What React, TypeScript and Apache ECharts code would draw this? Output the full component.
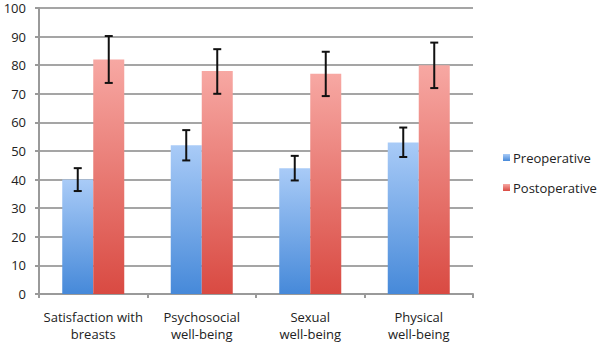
import React, { useEffect, useRef } from "react";
import * as echarts from "echarts";

const categories = [
  "Satisfaction with\nbreasts",
  "Psychosocial\nwell-being",
  "Sexual\nwell-being",
  "Physical\nwell-being",
];
const preoperative = [40, 52, 44, 53];
const preoperativeLow = [36, 46.7, 39.7, 47.9];
const preoperativeHigh = [44, 57.3, 48.3, 58.2];
const postoperative = [82, 78, 77, 80];
const postoperativeLow = [73.8, 70, 69.2, 72];
const postoperativeHigh = [90.2, 85.6, 84.7, 87.9];
const yTicks = [0, 10, 20, 30, 40, 50, 60, 70, 80, 90, 100];

const FONT = "'Open Sans', sans-serif";
const BAR_W = 31;

const blueGrad = new echarts.graphic.LinearGradient(0, 0, 0, 1, [
  { offset: 0, color: "#a9cbf7" },
  { offset: 1, color: "#4689d9" },
]);
const redGrad = new echarts.graphic.LinearGradient(0, 0, 0, 1, [
  { offset: 0, color: "#f7a8a3" },
  { offset: 1, color: "#d94a42" },
]);

function errorSeries(low: number[], high: number[], offset: number) {
  return {
    type: "custom",
    silent: true,
    z: 10,
    data: low.map((l, i) => [i, l, high[i]]),
    renderItem: (params: any, api: any) => {
      const i = api.value(0);
      const lo = api.coord([i, api.value(1)]);
      const hi = api.coord([i, api.value(2)]);
      const x = lo[0] + offset;
      const cap = 4;
      const style = { stroke: "#111", lineWidth: 2 };
      return {
        type: "group",
        children: [
          { type: "line", shape: { x1: x, y1: lo[1], x2: x, y2: hi[1] }, style },
          { type: "line", shape: { x1: x - cap, y1: lo[1], x2: x + cap, y2: lo[1] }, style },
          { type: "line", shape: { x1: x - cap, y1: hi[1], x2: x + cap, y2: hi[1] }, style },
        ],
      };
    },
  };
}

export default function App() {
  const ref = useRef<HTMLDivElement>(null);
  useEffect(() => {
    const chart = echarts.init(ref.current!, null, { renderer: "svg" });
    chart.setOption({
      animation: false,
      backgroundColor: "#ffffff",
      textStyle: { fontFamily: FONT },
      grid: { left: 39, top: 8, right: 127, bottom: 53 },
      legend: {
        orient: "vertical",
        left: 498,
        top: 146,
        itemWidth: 7,
        itemHeight: 7,
        itemGap: 17,
        icon: "rect",
        textStyle: { fontFamily: FONT, fontSize: 13, color: "#222", padding: [0, 0, 0, -2] },
        data: ["Preoperative", "Postoperative"],
      },
      xAxis: {
        type: "category",
        data: categories,
        axisLine: { lineStyle: { color: "#9a9a9a", width: 2 } },
        axisTick: { show: true, length: 4, lineStyle: { color: "#9a9a9a", width: 2 } },
        axisLabel: {
          fontFamily: FONT,
          fontSize: 13,
          color: "#222",
          lineHeight: 17,
          margin: 14,
          interval: 0,
        },
      },
      yAxis: {
        type: "value",
        min: 0,
        max: 100,
        interval: 10,
        axisLine: { show: true, lineStyle: { color: "#9a9a9a", width: 2 } },
        axisTick: { show: true, length: 4, lineStyle: { color: "#9a9a9a", width: 2 } },
        splitLine: { lineStyle: { color: "#a5a5a5", width: 2 } },
        axisLabel: {
          fontFamily: FONT,
          fontSize: 13,
          lineHeight: 12,
          color: "#222",
          margin: 13,
          formatter: (v: number) => (yTicks.includes(v) ? String(v) : ""),
        },
      },
      series: [
        {
          name: "Preoperative",
          type: "bar",
          data: preoperative,
          barWidth: BAR_W,
          barGap: "0%",
          itemStyle: { color: blueGrad },
        },
        {
          name: "Postoperative",
          type: "bar",
          data: postoperative,
          barWidth: BAR_W,
          barGap: "0%",
          itemStyle: { color: redGrad },
        },
        errorSeries(preoperativeLow, preoperativeHigh, -BAR_W / 2),
        errorSeries(postoperativeLow, postoperativeHigh, BAR_W / 2),
      ],
    });
    return () => chart.dispose();
  }, []);
  return <div ref={ref} style={{ width: 600, height: 347, position: "absolute", left: 0, top: 0 }} />;
}
